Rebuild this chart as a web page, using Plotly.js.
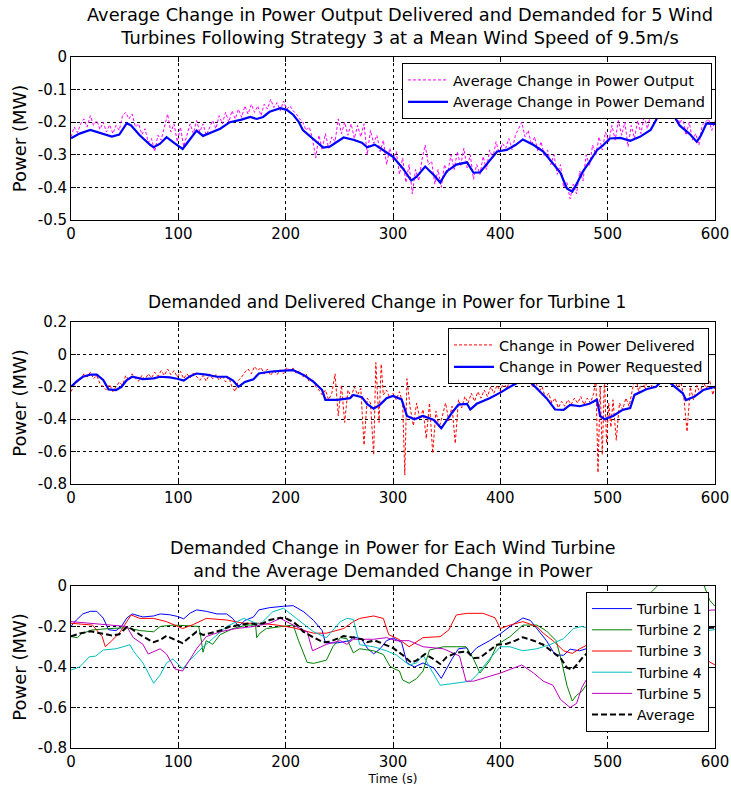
<!DOCTYPE html>
<html>
<head>
<meta charset="utf-8">
<script src="https://cdn.plot.ly/plotly-3.0.1.min.js"></script>
<style>html,body{margin:0;padding:0;background:#fff;}#chart{width:731px;height:789px;}</style>
</head>
<body>
<div id="chart"></div>
<script>
// ---------- Data ----------
// Subplot 1: average change in power output (sampled every 3 s from t=0) and demanded (5 turbines)
const outputStart = 0;
const outputStep = 3;
const avgOutput = [
-0.245,-0.215,-0.232,-0.205,-0.19,-0.215,-0.18,-0.21,-0.195,-0.222,
-0.20,-0.23,-0.208,-0.235,-0.21,-0.225,-0.18,-0.17,-0.19,-0.175,
-0.215,-0.205,-0.238,-0.22,-0.262,-0.25,-0.29,-0.24,-0.255,-0.21,
-0.175,-0.23,-0.205,-0.26,-0.215,-0.275,-0.24,-0.205,-0.235,-0.195,
-0.23,-0.205,-0.24,-0.215,-0.195,-0.22,-0.18,-0.205,-0.17,-0.2,
-0.165,-0.19,-0.16,-0.185,-0.15,-0.175,-0.145,-0.17,-0.15,-0.18,
-0.145,-0.16,-0.13,-0.155,-0.14,-0.165,-0.135,-0.16,-0.15,-0.165,
-0.175,-0.19,-0.2,-0.225,-0.215,-0.25,-0.31,-0.24,-0.285,-0.235,
-0.28,-0.245,-0.26,-0.19,-0.235,-0.2,-0.24,-0.205,-0.25,-0.21,
-0.245,-0.205,-0.3,-0.225,-0.265,-0.24,-0.29,-0.255,-0.33,-0.28,
-0.315,-0.29,-0.36,-0.31,-0.385,-0.33,-0.42,-0.345,-0.38,-0.315,
-0.27,-0.33,-0.32,-0.39,-0.345,-0.4,-0.33,-0.355,-0.3,-0.345,
-0.29,-0.335,-0.28,-0.34,-0.3,-0.375,-0.33,-0.36,-0.305,-0.345,
-0.285,-0.31,-0.26,-0.295,-0.265,-0.28,-0.25,-0.285,-0.24,-0.22,
-0.2,-0.245,-0.225,-0.27,-0.245,-0.29,-0.26,-0.305,-0.285,-0.33,
-0.3,-0.36,-0.33,-0.4,-0.385,-0.435,-0.39,-0.42,-0.35,-0.38,
-0.3,-0.335,-0.27,-0.3,-0.245,-0.285,-0.23,-0.26,-0.21,-0.255,
-0.195,-0.24,-0.2,-0.275,-0.21,-0.25,-0.195,-0.235,-0.18,-0.22,
-0.175,-0.19,-0.155,-0.16,-0.13,-0.145,-0.13,-0.185,-0.16,-0.205,
-0.185,-0.24,-0.2,-0.255,-0.235,-0.27,-0.21,-0.2,-0.19,-0.225,
-0.195];

const demandTime = [0,8,18,30,38,45,52,56,64,74,
77,83,89,97,104,110,117,123,130,139,
148,158,167,173,179,185,195,201,207,212,
216,226,235,241,248,254,263,271,276,283,
291,300,309,317,322,330,338,344,350,359,
369,375,381,390,397,406,414,421,431,440,
449,456,462,467,471,477,484,490,496,502,
512,521,530,540,546,550,555,560,567,576,
583,587,592,600];
const avgDemand = [-0.249,-0.235,-0.224,-0.236,-0.244,-0.238,-0.203,-0.21,-0.24,-0.27,
-0.277,-0.266,-0.246,-0.266,-0.282,-0.256,-0.226,-0.242,-0.232,-0.22,
-0.2,-0.193,-0.184,-0.19,-0.184,-0.168,-0.157,-0.162,-0.177,-0.198,
-0.224,-0.254,-0.278,-0.275,-0.26,-0.247,-0.254,-0.263,-0.277,-0.269,
-0.286,-0.306,-0.341,-0.379,-0.367,-0.336,-0.362,-0.385,-0.351,-0.33,
-0.323,-0.355,-0.354,-0.319,-0.29,-0.285,-0.27,-0.253,-0.27,-0.29,
-0.326,-0.355,-0.403,-0.413,-0.39,-0.351,-0.317,-0.286,-0.27,-0.25,
-0.248,-0.257,-0.245,-0.224,-0.188,-0.157,-0.14,-0.168,-0.21,-0.235,
-0.26,-0.24,-0.204,-0.206];

// Subplot 2: turbine 1 delivered and requested
const deliveredTime = [0,3,6,9,12,15,18,21,24,27,
30,33,36,39,42,45,48,51,54,57,
60,63,66,69,72,75,78,81,84,87,
90,93,96,99,102,105,108,111,114,117,
120,123,126,129,132,135,138,141,144,147,
150,153,156,159,162,165,168,171,174,177,
180,183,186,189,192,195,198,201,204,207,
210,213,216,219,222,225,228,231,234,237,
240,243,246,249,252,255,258,261,264,267,
270,273,276,279,282,284,287,289,291,294,
297,300,303,306,309,311,313,316,319,322,
325,328,331,334,337,340,343,346,349,352,
355,358,361,364,367,370,373,376,379,382,
385,388,391,394,397,400,403,406,409,412,
415,418,421,424,427,430,433,436,439,442,
445,448,451,454,457,460,463,466,469,472,
475,478,481,484,487,489,491,493,495,497,
499,501,503,505,508,511,514,517,520,523,
526,529,532,535,538,541,544,547,550,553,
556,559,562,565,568,571,574,577,580,583,
586,589,592,595,598,600];
const delivered = [-0.23,-0.19,-0.17,-0.15,-0.12,-0.14,-0.11,-0.15,-0.13,-0.18,
-0.2,-0.22,-0.185,-0.23,-0.2,-0.17,-0.19,-0.13,-0.16,-0.12,
-0.15,-0.165,-0.13,-0.155,-0.12,-0.145,-0.11,-0.135,-0.1,-0.13,
-0.09,-0.125,-0.1,-0.14,-0.105,-0.15,-0.12,-0.145,-0.115,-0.14,
-0.16,-0.13,-0.165,-0.12,-0.15,-0.125,-0.16,-0.13,-0.17,-0.14,
-0.2,-0.23,-0.16,-0.14,-0.11,-0.09,-0.12,-0.075,-0.1,-0.08,
-0.12,-0.09,-0.13,-0.1,-0.125,-0.095,-0.12,-0.08,-0.1,-0.085,
-0.12,-0.1,-0.14,-0.12,-0.17,-0.15,-0.2,-0.22,-0.25,-0.22,
-0.28,-0.24,-0.12,-0.38,-0.19,-0.42,-0.22,-0.26,-0.2,-0.25,
-0.21,-0.56,-0.27,-0.3,-0.62,-0.05,-0.42,-0.06,-0.25,-0.22,
-0.27,-0.24,-0.28,-0.23,-0.3,-0.745,-0.15,-0.33,-0.44,-0.3,
-0.4,-0.34,-0.52,-0.3,-0.61,-0.35,-0.45,-0.38,-0.3,-0.41,
-0.32,-0.55,-0.28,-0.33,-0.26,-0.3,-0.24,-0.29,-0.23,-0.27,
-0.22,-0.26,-0.2,-0.24,-0.19,-0.23,-0.17,-0.21,-0.16,-0.19,
-0.14,-0.17,-0.13,-0.18,-0.15,-0.2,-0.17,-0.23,-0.2,-0.27,
-0.24,-0.3,-0.27,-0.33,-0.29,-0.32,-0.28,-0.31,-0.27,-0.3,
-0.26,-0.31,-0.27,-0.3,-0.24,-0.14,-0.73,-0.2,-0.62,-0.15,
-0.55,-0.3,-0.45,-0.28,-0.53,-0.3,-0.34,-0.27,-0.32,-0.22,
-0.12,-0.24,-0.14,-0.22,-0.1,-0.2,-0.12,-0.18,-0.1,-0.14,
-0.11,-0.17,-0.12,-0.22,-0.16,-0.27,-0.477,-0.2,-0.28,-0.19,
-0.24,-0.17,-0.21,-0.16,-0.25,-0.2];

const requestedTime = [0,5,11,18,24,30,35,42,47,52,
57,67,77,83,92,99,105,111,117,126,
136,145,151,156,162,170,175,185,198,207,
217,226,234,237,248,260,263,271,276,282,
288,294,300,308,313,320,328,338,345,350,
355,361,369,372,378,390,400,409,421,428,
435,443,451,459,465,474,483,490,493,497,
505,514,521,525,536,545,553,561,570,573,
581,589,600];
const requested = [-0.199,-0.168,-0.138,-0.125,-0.125,-0.158,-0.216,-0.22,-0.2,-0.158,
-0.138,-0.153,-0.148,-0.138,-0.142,-0.15,-0.162,-0.134,-0.118,-0.125,
-0.138,-0.138,-0.162,-0.2,-0.17,-0.153,-0.118,-0.107,-0.1,-0.097,
-0.128,-0.17,-0.22,-0.281,-0.281,-0.27,-0.25,-0.264,-0.307,-0.335,
-0.31,-0.27,-0.257,-0.278,-0.38,-0.4,-0.38,-0.405,-0.456,-0.405,
-0.36,-0.31,-0.305,-0.34,-0.305,-0.27,-0.236,-0.2,-0.158,-0.17,
-0.215,-0.27,-0.34,-0.342,-0.312,-0.32,-0.305,-0.28,-0.38,-0.4,
-0.38,-0.342,-0.332,-0.25,-0.215,-0.2,-0.148,-0.19,-0.24,-0.282,
-0.26,-0.22,-0.2];

// Subplot 3: demanded change for each turbine (turbine 1 = requested above, average = avgDemand above)
const t2Time = [0,6,10,20,36,52,64,77,83,95,
108,114,119,121,123,126,132,139,151,164,
170,172,173,176,182,195,207,212,220,226,
238,244,251,257,263,269,282,291,297,300,
306,309,315,322,328,334,347,359,368,375,
381,390,397,409,421,434,443,452,457,462,
467,471,476,485,495,505,515,525,535,545,
550,560,575,590,595,600];
const t2Vals = [-0.25,-0.255,-0.235,-0.217,-0.21,-0.206,-0.22,-0.226,-0.2,-0.193,
-0.196,-0.2,-0.2,-0.255,-0.327,-0.27,-0.288,-0.24,-0.21,-0.193,
-0.193,-0.193,-0.255,-0.233,-0.21,-0.2,-0.193,-0.27,-0.377,-0.382,
-0.366,-0.3,-0.255,-0.26,-0.33,-0.31,-0.32,-0.338,-0.395,-0.406,
-0.42,-0.464,-0.48,-0.457,-0.42,-0.316,-0.3,-0.3,-0.3,-0.36,
-0.43,-0.37,-0.29,-0.25,-0.193,-0.193,-0.222,-0.27,-0.37,-0.49,
-0.568,-0.54,-0.52,-0.45,-0.27,-0.2,-0.15,-0.1,-0.06,-0.01,
0.02,0.05,0.04,0.0,-0.07,-0.1];

const t3Time = [0,20,29,32,38,45,52,56,64,77,
89,104,114,126,145,161,176,192,207,226,
238,254,263,269,282,291,296,303,306,315,
328,344,352,359,369,384,395,400,409,421,
434,440,449,459,467,474,485,495,505,515,
525,540,550,560,575,590,600];
const t3Vals = [-0.184,-0.193,-0.25,-0.3,-0.27,-0.233,-0.176,-0.143,-0.16,-0.16,
-0.176,-0.21,-0.19,-0.16,-0.168,-0.184,-0.184,-0.193,-0.206,-0.233,
-0.233,-0.21,-0.176,-0.16,-0.148,-0.16,-0.24,-0.255,-0.265,-0.3,
-0.255,-0.25,-0.217,-0.143,-0.135,-0.135,-0.157,-0.21,-0.193,-0.176,
-0.2,-0.233,-0.27,-0.32,-0.333,-0.31,-0.28,-0.22,-0.2,-0.2,
-0.2,-0.18,-0.17,-0.2,-0.28,-0.36,-0.39];

const t4Time = [0,8,17,23,30,42,55,58,67,77,
83,89,95,104,110,120,132,145,161,176,
188,198,210,226,238,251,257,263,269,282,
294,303,315,322,328,334,344,359,372,378,
390,400,409,421,434,446,459,468,476,490,
505,520,535,550,565,580,594,600];
const t4Vals = [-0.415,-0.4,-0.35,-0.346,-0.316,-0.31,-0.29,-0.32,-0.38,-0.48,
-0.44,-0.38,-0.36,-0.41,-0.37,-0.316,-0.26,-0.2,-0.16,-0.19,
-0.127,-0.11,-0.16,-0.226,-0.255,-0.176,-0.16,-0.165,-0.29,-0.3,
-0.32,-0.34,-0.39,-0.38,-0.34,-0.4,-0.49,-0.48,-0.47,-0.44,
-0.36,-0.3,-0.3,-0.32,-0.31,-0.29,-0.26,-0.21,-0.2,-0.22,
-0.25,-0.22,-0.2,-0.15,-0.2,-0.25,-0.22,-0.215];

const t5Time = [0,20,38,52,58,67,72,83,89,97,
104,110,117,126,139,154,170,185,195,207,
220,225,238,251,257,263,282,294,303,315,
322,328,347,362,368,375,400,420,431,440,
449,456,465,471,476,485,495,505,520,535,
550,565,580,594,600];
const t5Vals = [-0.176,-0.184,-0.193,-0.2,-0.255,-0.288,-0.336,-0.31,-0.336,-0.41,
-0.42,-0.37,-0.31,-0.25,-0.226,-0.21,-0.2,-0.184,-0.16,-0.193,
-0.226,-0.32,-0.288,-0.27,-0.288,-0.263,-0.263,-0.255,-0.27,-0.27,
-0.288,-0.3,-0.31,-0.346,-0.47,-0.47,-0.43,-0.39,-0.43,-0.47,
-0.49,-0.56,-0.6,-0.58,-0.5,-0.42,-0.33,-0.28,-0.26,-0.22,
-0.15,-0.18,-0.2,-0.12,-0.118];

// Tick labels
const xTicks = [0,100,200,300,400,500,600];
const xTickText = ['0','100','200','300','400','500','600'];
const yTicks1 = [-0.5,-0.4,-0.3,-0.2,-0.1,0];
const yTickText1 = ['-0.5','-0.4','-0.3','-0.2','-0.1','0'];
const yTicks2 = [-0.8,-0.6,-0.4,-0.2,0,0.2];
const yTickText2 = ['-0.8','-0.6','-0.4','-0.2','0','0.2'];
const yTicks3 = [-0.8,-0.6,-0.4,-0.2,0];
const yTickText3 = ['-0.8','-0.6','-0.4','-0.2','0'];

// ---------- Chart ----------
const FONT = 'DejaVu Sans, Arial, sans-serif';
const W = 731, H = 789;
const xDom = [71/W, 715/W];
function yDom(topPx, botPx){ return [1-botPx/H, 1-topPx/H]; }

const traces = [
  {x0: outputStart, dx: outputStep, y: avgOutput, xaxis:'x', yaxis:'y', mode:'lines', name:'Average Change in Power Output',
   line:{color:'#FF00FF', width:1, dash:'3px,2px'}, legend:'legend'},
  {x: demandTime, y: avgDemand, xaxis:'x', yaxis:'y', mode:'lines', name:'Average Change in Power Demand',
   line:{color:'#0000FF', width:2.2}, legend:'legend'},
  {x: deliveredTime, y: delivered, xaxis:'x2', yaxis:'y2', mode:'lines', name:'Change in Power Delivered',
   line:{color:'#FF0000', width:1, dash:'3px,2px'}, legend:'legend2'},
  {x: requestedTime, y: requested, xaxis:'x2', yaxis:'y2', mode:'lines', name:'Change in Power Requested',
   line:{color:'#0000FF', width:2.2}, legend:'legend2'},
  {x: requestedTime, y: requested, xaxis:'x3', yaxis:'y3', mode:'lines', name:'Turbine 1',
   line:{color:'#0000FF', width:1}, legend:'legend3'},
  {x: t2Time, y: t2Vals, xaxis:'x3', yaxis:'y3', mode:'lines', name:'Turbine 2',
   line:{color:'#008000', width:1}, legend:'legend3'},
  {x: t3Time, y: t3Vals, xaxis:'x3', yaxis:'y3', mode:'lines', name:'Turbine 3',
   line:{color:'#FF0000', width:1}, legend:'legend3'},
  {x: t4Time, y: t4Vals, xaxis:'x3', yaxis:'y3', mode:'lines', name:'Turbine 4',
   line:{color:'#00BFBF', width:1}, legend:'legend3'},
  {x: t5Time, y: t5Vals, xaxis:'x3', yaxis:'y3', mode:'lines', name:'Turbine 5',
   line:{color:'#BF00BF', width:1}, legend:'legend3'},
  {x: demandTime, y: avgDemand, xaxis:'x3', yaxis:'y3', mode:'lines', name:'Average',
   line:{color:'#000000', width:2, dash:'6px,3px'}, legend:'legend3'}
];

function xAxis(anchor){
  return {domain:xDom, anchor:anchor, range:[0,600], tickvals:xTicks, ticktext:xTickText,
    showline:true, linecolor:'#000', linewidth:1, mirror:'allticks', ticks:'inside', ticklen:5, tickcolor:'#000',
    showgrid:true, gridcolor:'#000', gridwidth:1, griddash:'3px,3px', zeroline:false, automargin:false,
    tickfont:{family:FONT, size:15, color:'#000'}, fixedrange:true};
}
function yAxis(anchor, dom, range, tv, tt){
  return {domain:dom, anchor:anchor, range:range, tickvals:tv, ticktext:tt,
    showline:true, linecolor:'#000', linewidth:1, mirror:'allticks', ticks:'inside', ticklen:5, tickcolor:'#000',
    showgrid:true, gridcolor:'#000', gridwidth:1, griddash:'3px,3px', zeroline:false, automargin:false,
    tickfont:{family:FONT, size:15, color:'#000'}, fixedrange:true,
    title:{text:'Power (MW)', font:{family:FONT, size:18, color:'#000'}, standoff:6}};
}

const legendBase = {bgcolor:'#FFFFFF', bordercolor:'#000', borderwidth:1, xanchor:'right', yanchor:'top',
  font:{family:FONT, size:14.5, color:'#000'}, itemwidth:40, tracegroupgap:0};

const layout = {
  width:W, height:H, margin:{l:0,r:0,t:0,b:0}, paper_bgcolor:'#fff', plot_bgcolor:'#fff',
  font:{family:FONT, color:'#000'},
  xaxis: xAxis('y'),
  yaxis: yAxis('x', yDom(57,220), [-0.5,0], yTicks1, yTickText1),
  xaxis2: xAxis('y2'),
  yaxis2: yAxis('x2', yDom(322,484), [-0.8,0.2], yTicks2, yTickText2),
  xaxis3: Object.assign(xAxis('y3'), {title:{text:'Time (s)', font:{family:FONT, size:12, color:'#000'}, standoff:4}}),
  yaxis3: yAxis('x3', yDom(586,748), [-0.8,0], yTicks3, yTickText3),
  legend: Object.assign({}, legendBase, {x:712/W, y:1-63/H}),
  legend2: Object.assign({}, legendBase, {x:709/W, y:1-328/H}),
  legend3: Object.assign({}, legendBase, {x:709/W, y:1-592/H, font:{family:FONT, size:14, color:'#000'}}),
  annotations: [
    {text:'Average Change in Power Output Delivered and Demanded for 5 Wind<br>Turbines Following Strategy 3 at a Mean Wind Speed of 9.5m/s',
     xref:'paper', yref:'paper', x:400/W, y:1-26/H, xanchor:'center', yanchor:'middle', showarrow:false,
     font:{family:FONT, size:17.8, color:'#000'}},
    {text:'Demanded and Delivered Change in Power for Turbine 1',
     xref:'paper', yref:'paper', x:387/W, y:1-302/H, xanchor:'center', yanchor:'middle', showarrow:false,
     font:{family:FONT, size:17, color:'#000'}},
    {text:'Demanded Change in Power for Each Wind Turbine<br>and the Average Demanded Change in Power',
     xref:'paper', yref:'paper', x:393/W, y:1-559.5/H, xanchor:'center', yanchor:'middle', showarrow:false,
     font:{family:FONT, size:17.5, color:'#000'}}
  ]
};

Plotly.newPlot('chart', traces, layout, {displayModeBar:false, staticPlot:true});
</script>
</body>
</html>
